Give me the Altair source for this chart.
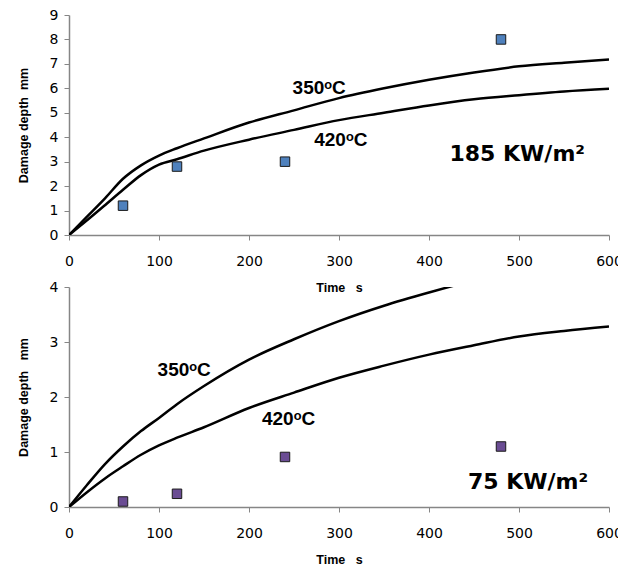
import altair as alt
import pandas as pd

# ---------------- data ----------------
time = [0, 20, 40, 60, 80, 100, 120, 150, 200, 250, 300, 350, 400, 450, 500, 550, 600]
top_350 = [0, 0.75, 1.5, 2.3, 2.85, 3.25, 3.55, 3.95, 4.6, 5.1, 5.6, 6.0, 6.35, 6.65, 6.9, 7.05, 7.18]
top_420 = [0, 0.6, 1.22, 1.85, 2.45, 2.88, 3.1, 3.45, 3.9, 4.3, 4.7, 5.0, 5.3, 5.55, 5.72, 5.87, 5.98]
bot_350 = [0, 0.4, 0.78, 1.1, 1.38, 1.62, 1.87, 2.2, 2.68, 3.05, 3.38, 3.66, 3.9, 4.12, 4.3, 4.47, 4.62]
bot_420 = [0, 0.27, 0.52, 0.74, 0.95, 1.12, 1.26, 1.45, 1.8, 2.08, 2.35, 2.57, 2.77, 2.94, 3.1, 3.2, 3.28]

meas_time = [60, 120, 240, 480]
top_meas = [1.2, 2.8, 3.0, 8.0]
bot_meas = [0.1, 0.24, 0.91, 1.1]

top_labels = ["350ᵒC", "420ᵒC", "185 KW/m²"]
top_label_t = [278, 302, 498]
top_label_v = [6.0, 3.9, 3.3]
bot_labels = ["350ᵒC", "420ᵒC", "75 KW/m²"]
bot_label_t = [128, 244, 510]
bot_label_v = [2.49, 1.6, 0.45]

x_ticks = [0, 100, 200, 300, 400, 500, 600]

NB = "\u00a0"


def lines_df(a, b):
    return pd.DataFrame({
        "t": time + time,
        "v": a + b,
        "series": ["350"] * len(time) + ["420"] * len(time),
    })


def panel(ldf, pts, labels, lt, lv, ymax, ytitle, fill):
    x = alt.X("t:Q", scale=alt.Scale(domain=[0, 600], nice=False),
              axis=alt.Axis(values=x_ticks, title="Time" + NB * 3 + "s", labelPadding=14,
                            labelFlush=False, titleY=52, titleBaseline="middle"))
    y = alt.Y("v:Q", scale=alt.Scale(domain=[0, ymax], nice=False),
              axis=alt.Axis(values=list(range(0, ymax + 1)), title=ytitle,
                            labelPadding=6, titleX=-46, titleY=110,
                            titleBaseline="middle", titleAlign="center"))
    lines = alt.Chart(ldf).mark_line(color="black", strokeWidth=2.5, clip=True,
                                     interpolate="monotone").encode(
        x=x, y=y, detail="series:N")
    pdf = pd.DataFrame({"t": meas_time, "v": pts})
    points = alt.Chart(pdf).mark_square(size=90, filled=True, color=fill, opacity=1,
                                        stroke="#1a1a1a", strokeWidth=1).encode(x=x, y=y)
    tdf = pd.DataFrame({"t": lt[:2], "v": lv[:2], "label": labels[:2]})
    temps = alt.Chart(tdf).mark_text(font="Liberation Sans", fontWeight="bold", fontSize=19,
                                     color="black", align="center", baseline="middle").encode(
        x=x, y=y, text="label:N")
    fdf = pd.DataFrame({"t": lt[2:], "v": lv[2:], "label": labels[2:]})
    flux = alt.Chart(fdf).mark_text(font="DejaVu Sans", fontWeight="bold", fontSize=22,
                                    color="black", align="center", baseline="middle").encode(
        x=x, y=y, text="label:N")
    return alt.layer(lines, points, temps, flux).properties(width=540, height=220)


top = panel(lines_df(top_350, top_420), top_meas, top_labels, top_label_t, top_label_v,
            9, "Damage depth" + NB * 2 + "mm", "#4F81BD")
bottom = panel(lines_df(bot_350, bot_420), bot_meas, bot_labels, bot_label_t, bot_label_v,
               4, "Damage depth" + NB * 3 + "mm", "#6A4C93")

chart = alt.vconcat(top, bottom, spacing=52, bounds="flush").properties(
    padding={"left": 17, "top": 8, "right": -5, "bottom": 0},
    background="white",
).configure_view(stroke=None).configure_axis(
    grid=False,
    domainColor="#868686",
    tickColor="#868686",
    tickSize=5,
    domainWidth=1.5,
    labelFont="DejaVu Sans",
    labelFontSize=14,
    labelColor="black",
    titleFont="Liberation Sans",
    titleFontWeight="bold",
    titleFontSize=12.5,
    titleColor="black",
)

chart.save("out.html", embed_options={"renderer": "svg", "actions": False})
